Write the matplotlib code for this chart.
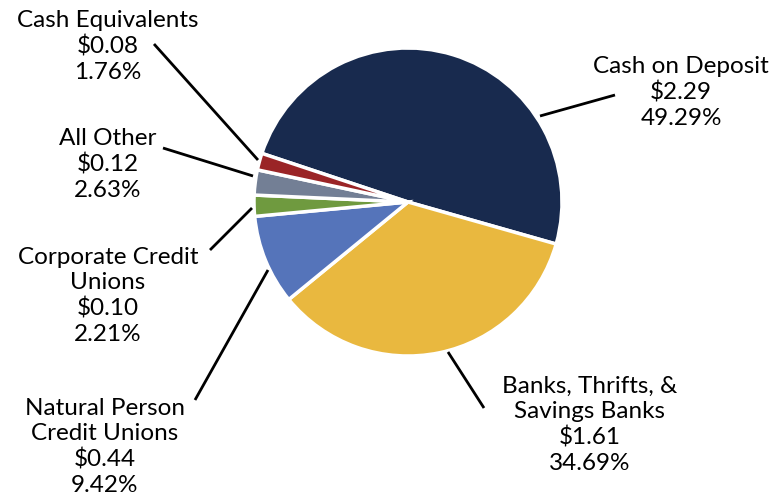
import matplotlib.pyplot as plt

# Data (billions)
categories = ["Cash on Deposit", "Banks, Thrifts, &\nSavings Banks",
              "Natural Person\nCredit Unions", "Corporate Credit\nUnions",
              "All Other", "Cash Equivalents"]
amounts = ["$2.29", "$1.61", "$0.44", "$0.10", "$0.12", "$0.08"]
shares = [49.29, 34.69, 9.42, 2.21, 2.63, 1.76]

colors = ["#182a4e", "#e9b83f", "#5574ba", "#6f9a3f", "#737f95", "#9a2426"]

plt.rcParams["font.family"] = ["Lato", "DejaVu Sans"]

W, H = 775, 493
fig = plt.figure(figsize=(W / 100, H / 100), dpi=100)
ax = fig.add_axes([0, 0, 1, 1])

cx, cy, r = 408, H - 202, 154
ax.pie(shares, colors=colors, startangle=161.6, counterclock=False,
       center=(cx, cy), radius=r, frame=True,
       wedgeprops=dict(edgecolor="white", linewidth=2.5))
ax.set_xlim(0, W)
ax.set_ylim(0, H)
ax.set_aspect("equal")
ax.axis("off")

# label layout in pixel coords (x centre, y top), leader line start/end
text_pos = [(681, 56), (590, 376), (105, 398), (108, 247), (108, 128), (108, 10)]
line_from = [(615, 95), (484, 408), (195, 400), (210, 250), (163, 148), (154, 44)]
line_to = [(540, 116), (448, 352), (268, 270), (252, 208), (253, 176), (258, 160)]

for cat, amt, pct, (tx, ty), p0, p1 in zip(categories, amounts, shares,
                                            text_pos, line_from, line_to):
    ax.text(tx, H - ty, f"{cat}\n{amt}\n{pct:.2f}%", ha="center", va="top",
            fontsize=17.5, linespacing=1.25, color="black")
    ax.plot([p0[0], p1[0]], [H - p0[1], H - p1[1]], color="black", lw=2,
            solid_capstyle="butt")

fig.savefig("out.png", dpi=100)
